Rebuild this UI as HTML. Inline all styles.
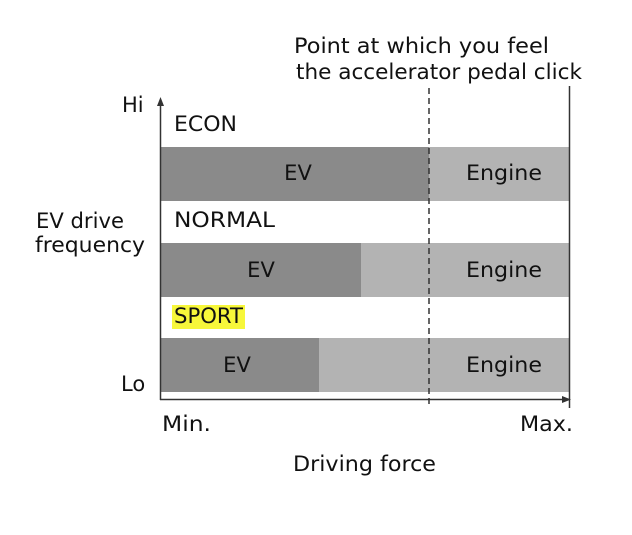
<!DOCTYPE html>
<html><head><style>
body{margin:0;background:#fff;}
svg text{font-family:"DejaVu Sans","Liberation Sans",sans-serif;font-size:21px;fill:#111;}
</style></head><body>
<svg width="632" height="530" xmlns="http://www.w3.org/2000/svg">
<rect width="632" height="530" fill="#fff"/>
<rect x="161" y="147" width="408" height="54" fill="#b3b3b3"/>
<rect x="161" y="147" width="268" height="54" fill="#8a8a8a"/>
<rect x="161" y="243" width="408" height="54" fill="#b3b3b3"/>
<rect x="161" y="243" width="200" height="54" fill="#8a8a8a"/>
<rect x="161" y="338" width="408" height="54" fill="#b3b3b3"/>
<rect x="161" y="338" width="158" height="54" fill="#8a8a8a"/>
<line x1="429" y1="88" x2="429" y2="408" stroke="#333" stroke-width="1.5" stroke-dasharray="6,4"/>
<line x1="569.5" y1="86" x2="569.5" y2="408" stroke="#333" stroke-width="1.5"/>
<line x1="160.5" y1="104" x2="160.5" y2="400" stroke="#333" stroke-width="1.5"/>
<polygon points="157,106 160.5,97 164,106" fill="#333"/>
<line x1="160" y1="399.5" x2="564" y2="399.5" stroke="#333" stroke-width="1.5"/>
<polygon points="562,396 571,399.5 562,403" fill="#333"/>
<text x="294" y="53" textLength="255" lengthAdjust="spacingAndGlyphs">Point at which you feel</text>
<text x="296" y="79" textLength="286" lengthAdjust="spacingAndGlyphs">the accelerator pedal click</text>
<text x="122" y="112">Hi</text>
<text x="121" y="391">Lo</text>
<text x="174" y="131" textLength="63" lengthAdjust="spacingAndGlyphs">ECON</text>
<text x="174" y="227" textLength="101" lengthAdjust="spacingAndGlyphs">NORMAL</text>
<rect x="172" y="305" width="73" height="24" fill="#f7f73a"/>
<text x="174" y="323" textLength="69" lengthAdjust="spacingAndGlyphs">SPORT</text>
<text x="36" y="228" textLength="88" lengthAdjust="spacingAndGlyphs">EV drive</text>
<text x="35" y="252" textLength="110" lengthAdjust="spacingAndGlyphs">frequency</text>
<text x="298" y="180" text-anchor="middle">EV</text>
<text x="261" y="277" text-anchor="middle">EV</text>
<text x="237" y="372" text-anchor="middle">EV</text>
<text x="466" y="180" textLength="76" lengthAdjust="spacingAndGlyphs">Engine</text>
<text x="466" y="277" textLength="76" lengthAdjust="spacingAndGlyphs">Engine</text>
<text x="466" y="372" textLength="76" lengthAdjust="spacingAndGlyphs">Engine</text>
<text x="162" y="431" textLength="49" lengthAdjust="spacingAndGlyphs">Min.</text>
<text x="520" y="431" textLength="53" lengthAdjust="spacingAndGlyphs">Max.</text>
<text x="293" y="471" textLength="143" lengthAdjust="spacingAndGlyphs">Driving force</text>
</svg>
</body></html>
